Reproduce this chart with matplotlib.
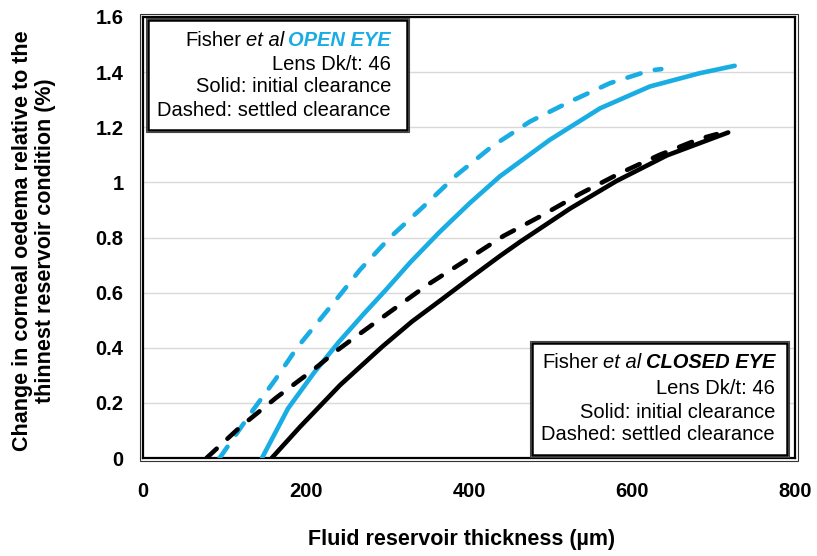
import matplotlib
matplotlib.use('Agg')
import matplotlib.pyplot as plt
from matplotlib.patches import Rectangle

plt.rcParams['font.family'] = ['Liberation Sans', 'DejaVu Sans']

# open eye (blue)
open_solid_x = [146, 178, 210, 240, 270, 298, 328, 364, 401, 438, 499, 561, 622, 683, 726]
open_solid_y = [0, 0.18, 0.31, 0.42, 0.52, 0.61, 0.71, 0.82, 0.925, 1.022, 1.154, 1.269,
                1.348, 1.396, 1.423]
open_dash_x = [94, 135, 162, 189, 244, 266, 303, 344, 385, 428, 475, 524, 573, 622, 636]
open_dash_y = [0, 0.174, 0.283, 0.4, 0.6, 0.682, 0.8, 0.912, 1.027, 1.13, 1.221, 1.293,
               1.36, 1.406, 1.411]

# closed eye (black)
closed_solid_x = [158, 193, 242, 294, 330, 365, 400, 438, 463, 524, 581, 643, 718]
closed_solid_y = [0, 0.114, 0.265, 0.405, 0.495, 0.572, 0.65, 0.733, 0.785, 0.905, 1.005,
                  1.098, 1.181]
closed_dash_x = [78, 119, 164, 209, 238, 254, 303, 350, 395, 442, 487, 536, 585, 634, 683, 704]
closed_dash_y = [0, 0.112, 0.22, 0.32, 0.39, 0.425, 0.53, 0.63, 0.715, 0.805, 0.876, 0.958,
                 1.033, 1.1, 1.158, 1.175]

xticks = [0, 200, 400, 600, 800]
yticks = [0, 0.2, 0.4, 0.6, 0.8, 1.0, 1.2, 1.4, 1.6]
ytick_labels = ['0', '0.2', '0.4', '0.6', '0.8', '1', '1.2', '1.4', '1.6']

BLUE = '#1AADE4'
W, H = 817, 556


def fx(px):
    return px / W


def fy(py):
    return 1 - py / H


fig = plt.figure(figsize=(W / 100, H / 100), dpi=100)
ax = fig.add_axes([fx(143), fy(458), (795 - 143) / W, (458 - 17) / H])

lw = 3.3
ax.plot(open_solid_x, open_solid_y, color=BLUE, lw=lw, solid_capstyle='round',
        solid_joinstyle='round', zorder=3)
ax.plot(open_dash_x, open_dash_y, color=BLUE, lw=lw, dashes=(3, 3.2),
        dash_capstyle='round', zorder=3)
ax.plot(closed_solid_x, closed_solid_y, color='black', lw=lw, solid_capstyle='round',
        solid_joinstyle='round', zorder=3)
ax.plot(closed_dash_x, closed_dash_y, color='black', lw=lw, dashes=(3, 3.2),
        dash_capstyle='round', zorder=3)

ax.set_xlim(0, 800)
ax.set_ylim(0, 1.6)
ax.set_xticks(xticks)
ax.set_xticklabels([str(v) for v in xticks])
ax.set_yticks(yticks)
ax.set_yticklabels(ytick_labels)
ax.tick_params(length=0, labelsize=14.5)
ax.tick_params(axis='x', pad=17)
ax.tick_params(axis='y', pad=14)
for lab in ax.get_xticklabels() + ax.get_yticklabels():
    lab.set_fontweight('bold')
ax.grid(axis='y', color='#D9D9D9', lw=1, zorder=0)
ax.set_axisbelow(True)
for sp in ax.spines.values():
    sp.set_linewidth(1.6)
    sp.set_color('black')
# thin outer frame line, as in the reference
fig.patches.append(Rectangle((fx(140), fy(461)), (798 - 140) / W, (461 - 14) / H,
                             transform=fig.transFigure, fill=False, lw=0.8,
                             edgecolor='#333333'))

fig.text(fx(462), fy(540), 'Fluid reservoir thickness (µm)', fontsize=15.5,
         fontweight='bold', ha='center', va='center')
fig.text(fx(34), fy(241), 'Change in corneal oedema relative to the\nthinnest reservoir condition (%)',
         fontsize=15.5, fontweight='bold', ha='center', va='center', rotation=90,
         multialignment='center', linespacing=1.1)


def note_box(left, top, right, bottom, text_right, rows, title, title_color):
    fig.patches.append(Rectangle((fx(left - 2), fy(bottom + 2)), (right - left + 4) / W,
                                 (bottom - top + 4) / H, transform=fig.transFigure,
                                 fill=False, lw=0.8, edgecolor='#444444', zorder=5))
    fig.patches.append(Rectangle((fx(left), fy(bottom)), (right - left) / W,
                                 (bottom - top) / H, transform=fig.transFigure,
                                 facecolor='white', lw=1.8, edgecolor='black', zorder=5))
    renderer = fig.canvas.get_renderer()
    pieces = [('Fisher', {}), ('et al', {'style': 'italic'}),
              (title, {'style': 'italic', 'weight': 'bold', 'color': title_color})]
    x = text_right
    for s, kw in reversed(pieces):
        t = fig.text(fx(x), fy(rows[0]), s, ha='right', va='center', fontsize=14.5,
                     zorder=6, **kw)
        x -= t.get_window_extent(renderer).width + 4.5
    lines = ['Lens Dk/t: 46', 'Solid: initial clearance', 'Dashed: settled clearance']
    for s, y in zip(lines, rows[1:]):
        fig.text(fx(text_right), fy(y), s, ha='right', va='center', fontsize=14.5, zorder=6)


note_box(148, 20, 407, 130, 391, [40, 64, 87, 110], 'OPEN EYE', BLUE)
note_box(532, 343, 787, 455, 775, [363, 388, 412, 435], 'CLOSED EYE', 'black')

fig.savefig('out.png', dpi=100)
